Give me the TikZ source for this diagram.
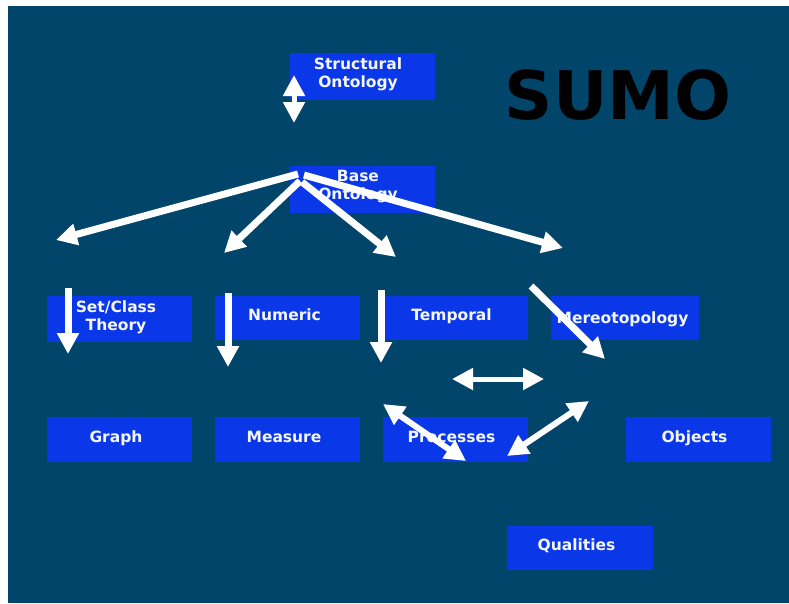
\documentclass[tikz,border=0pt]{standalone}
\usepackage{fontspec}
\setmainfont{DejaVu Sans}
\usetikzlibrary{arrows.meta}
\definecolor{bgblue}{HTML}{02456B}
\definecolor{boxblue}{HTML}{0A38E8}
\definecolor{labelwhite}{HTML}{F4F6FF}
\begin{document}
\begin{tikzpicture}[x=1pt,y=-1pt,
  box/.style={fill=boxblue, draw=none, minimum width=145pt, minimum height=45pt,
              inner sep=0pt, anchor=north west},
  lbl/.style={text=labelwhite, font=\fontsize{15.5}{18}\selectfont\bfseries,
              align=center, inner sep=0pt},
  onearrow/.style={draw=white, line width=7pt, -{Triangle[length=21pt,width=21pt]}},
  twoarrow/.style={draw=white, line width=6pt,
              {Triangle[length=21pt,width=21pt]}-{Triangle[length=21pt,width=21pt]}}
]
% page and slide background
\useasboundingbox (0,0) rectangle (789,603);
\fill[white] (0,0) rectangle (789,603);
\fill[bgblue] (8,6) rectangle (789,603);

% title
\node[anchor=base, inner sep=0pt, font=\fontsize{67}{67}\selectfont\bfseries, text=black]
  (title) at (618,119) {SUMO};

% boxes
\node[box, minimum height=47pt] (so)  at (290,53)  {};
\node[box, minimum height=47pt] (bo)  at (290,166) {};
\node[box, minimum height=46pt] (set) at (47,296)  {};
\node[box, minimum height=44pt] (num) at (215,296) {};
\node[box, minimum height=44pt] (tmp) at (383,296) {};
\node[box, minimum height=44pt, minimum width=148pt] (mer) at (551,296) {};
\node[box] (gra) at (47,417)  {};
\node[box] (mea) at (215,417) {};
\node[box] (pro) at (383,417) {};
\node[box] (obj) at (626,417) {};
\node[box, minimum height=44pt, minimum width=146pt] (qua) at (507,526) {};

% labels
\node[lbl] (soT)  at (358,74)  {Structural\\Ontology};
\node[lbl] (boT)  at (358,187) {Base\\Ontology};
\node[lbl] (setT) at (116,317.5) {Set/Class\\Theory};
\node[lbl, anchor=base] (numT) at (284.5,320) {Numeric};
\node[lbl, anchor=base] (tmpT) at (451.5,320) {Temporal};
\node[lbl, anchor=base] (merT) at (622.5,323) {Mereotopology};
\node[lbl, anchor=base] (graT) at (116,442)   {Graph};
\node[lbl, anchor=base] (meaT) at (284,442)   {Measure};
\node[lbl, anchor=base] (proT) at (451.5,442) {Processes};
\node[lbl, anchor=base] (objT) at (694.5,442) {Objects};
\node[lbl, anchor=base] (quaT) at (576.5,550) {Qualities};

% arrow end points
\coordinate (s1) at (294,75);   \coordinate (s2) at (294,123);
\coordinate (b1) at (298,174);  \coordinate (e1) at (56,240);
\coordinate (b2) at (300,181);  \coordinate (e2) at (224,253);
\coordinate (b3) at (302,182);  \coordinate (e3) at (396,257);
\coordinate (b4) at (304,175);  \coordinate (e4) at (563,248);
\coordinate (v1) at (68,288);   \coordinate (w1) at (68,354);
\coordinate (v2) at (228,293);  \coordinate (w2) at (228,367);
\coordinate (v3) at (381,290);  \coordinate (w3) at (381,363);
\coordinate (m1) at (531,286);  \coordinate (m2) at (605,359);
\coordinate (h1) at (452,379);  \coordinate (h2) at (544,379);
\coordinate (p1) at (383,404);  \coordinate (p2) at (466,461);
\coordinate (q1) at (589,401);  \coordinate (q2) at (507,456);

% arrows
\draw[twoarrow, line width=5pt] (s1) -- (s2);
\draw[onearrow] (b1) -- (e1);
\draw[onearrow] (b2) -- (e2);
\draw[onearrow] (b3) -- (e3);
\draw[onearrow] (b4) -- (e4);
\draw[onearrow] (v1) -- (w1);
\draw[onearrow] (v2) -- (w2);
\draw[onearrow] (v3) -- (w3);
\draw[onearrow] (m1) -- (m2);
\draw[twoarrow, line width=5pt] (h1) -- (h2);
\draw[twoarrow] (p1) -- (p2);
\draw[twoarrow] (q1) -- (q2);
\end{tikzpicture}
\end{document}
